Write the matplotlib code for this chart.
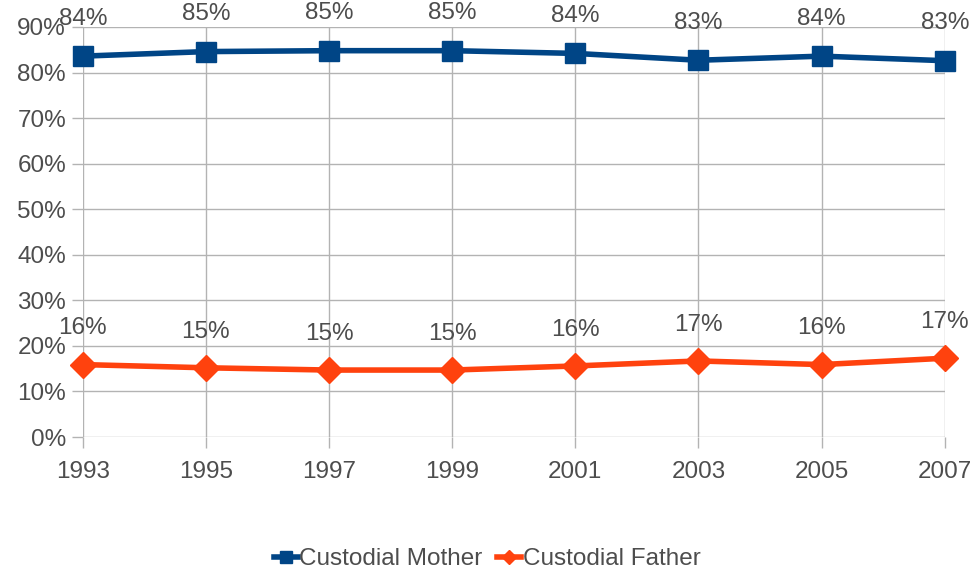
import matplotlib
matplotlib.use("Agg")
import matplotlib.pyplot as plt
from matplotlib.ticker import PercentFormatter

years = ["1993", "1995", "1997", "1999", "2001", "2003", "2005", "2007"]
mother = [83.6, 84.6, 84.8, 84.8, 84.2, 82.7, 83.6, 82.6]
father = [15.9, 15.2, 14.7, 14.7, 15.6, 16.7, 15.9, 17.3]
yticks = [0, 10, 20, 30, 40, 50, 60, 70, 80, 90]

plt.rcParams['font.family'] = ['Liberation Sans', 'DejaVu Sans']
txt = '#4d4d4d'
grid = '#b3b3b3'

fig = plt.figure(figsize=(9.74, 5.73), dpi=100)
ax = fig.add_axes([0.085, 0.2373, 0.885, 0.7156])
x = list(range(len(years)))

ax.plot(x, mother, color='#004586', lw=4, marker='s', ms=15, mec='#004586',
        label='Custodial Mother', zorder=3, clip_on=False)
ax.plot(x, father, color='#ff420e', lw=4, marker='D', ms=13, mec='#ff420e',
        label='Custodial Father', zorder=3, clip_on=False)

for xi, v in zip(x, mother):
    ax.annotate(f"{v:.0f}%", (xi, v), xytext=(0, 27), textcoords='offset points',
                ha='center', va='center', fontsize=17.5, color=txt)
for xi, v in zip(x, father):
    ax.annotate(f"{v:.0f}%", (xi, v), xytext=(0, 26), textcoords='offset points',
                ha='center', va='center', fontsize=17.5, color=txt)

ax.set_xlim(0, len(years) - 1)
ax.set_ylim(0, 90)
ax.set_xticks(x)
ax.set_xticklabels(years)
ax.set_yticks(yticks)
ax.yaxis.set_major_formatter(PercentFormatter(decimals=0))
ax.grid(True, color=grid, lw=1)
ax.set_axisbelow(True)
for s in ax.spines.values():
    s.set_visible(False)
ax.tick_params(axis='both', colors=grid, labelcolor=txt, labelsize=17.5, length=8, width=1)
ax.tick_params(axis='x', pad=9)
ax.tick_params(axis='y', pad=4)

fig.legend(loc='lower center', bbox_to_anchor=(0.5, -0.033), ncol=2, frameon=False,
           fontsize=17.5, labelcolor=txt, handlelength=1.0, handletextpad=0.05,
           columnspacing=0.6, markerscale=0.55)

fig.savefig('out.png', dpi=100, facecolor='white')
